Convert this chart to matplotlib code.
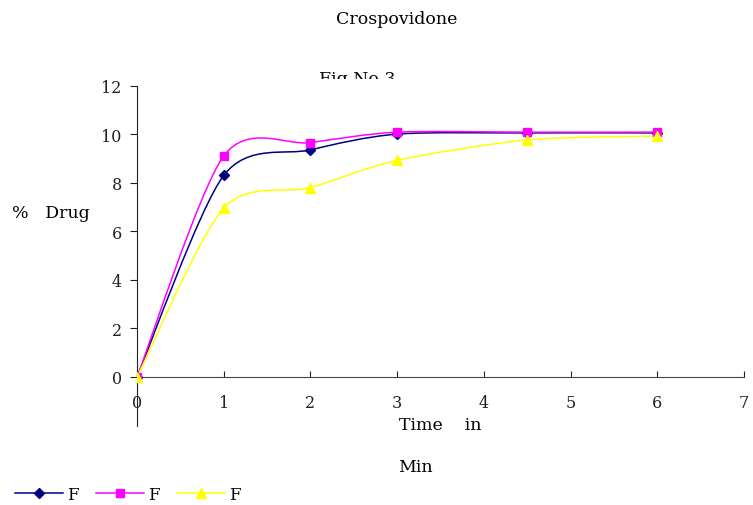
import matplotlib
matplotlib.use("Agg")
import matplotlib.pyplot as plt
from matplotlib.path import Path
from matplotlib.patches import PathPatch
from matplotlib.lines import Line2D

plt.rcParams['font.family'] = ['DejaVu Serif']

# time in minutes
time_min = [0, 1, 2, 3, 4.5, 6]
# % drug released, three formulations
series_blue = [0, 8.3, 9.35, 10.0, 10.05, 10.05]
series_pink = [0, 9.1, 9.65, 10.08, 10.08, 10.08]
series_yellow = [0, 6.95, 7.8, 8.92, 9.76, 9.92]
legend_labels = ["F", "F", "F"]
x_ticks = [0, 1, 2, 3, 4, 5, 6, 7]
y_ticks = [0, 2, 4, 6, 8, 10, 12]

TENSION = 0.14


def smooth_path(xs, ys):
    """Bezier path through the points, like a spreadsheet smoothed line."""
    pts = list(zip(xs, ys))
    n = len(pts)
    verts = [pts[0]]
    codes = [Path.MOVETO]
    for i in range(n - 1):
        p0 = pts[i - 1] if i > 0 else pts[i]
        p1 = pts[i]
        p2 = pts[i + 1]
        p3 = pts[i + 2] if i + 2 < n else pts[i + 1]
        c1 = (p1[0] + (p2[0] - p0[0]) * TENSION, p1[1] + (p2[1] - p0[1]) * TENSION)
        c2 = (p2[0] - (p3[0] - p1[0]) * TENSION, p2[1] - (p3[1] - p1[1]) * TENSION)
        verts += [c1, c2, p2]
        codes += [Path.CURVE4] * 3
    return Path(verts, codes)


fig = plt.figure(figsize=(7.53, 5.06), dpi=100)
ax = fig.add_axes([0.182, 0.157, 0.806, 0.684])
ax.set_zorder(2)
ax.set_facecolor("white")

styles = [
    (series_blue, "#000080", "D", 5),
    (series_pink, "#FF00FF", "s", 6),
    (series_yellow, "#FFFF00", "^", 7),
]
handles = []
for vals, col, mk, ms in styles:
    ax.add_patch(PathPatch(smooth_path(time_min, vals), facecolor="none",
                           edgecolor=col, lw=1.1, zorder=2))
    ax.plot(time_min, vals, linestyle="none", marker=mk, color=col,
            markersize=ms, zorder=3)
    handles.append(Line2D([], [], color=col, lw=1.1, marker=mk, markersize=ms))

ax.set_xlim(0, 7)
ax.set_ylim(-2, 12.25)
for s in ["top", "right"]:
    ax.spines[s].set_visible(False)
ax.spines["bottom"].set_position(("data", 0))
ax.spines["left"].set_bounds(-2, 12)
ax.spines["left"].set_color("#222222")
ax.spines["bottom"].set_color("#444444")

ax.set_xticks(x_ticks)
ax.set_yticks(y_ticks)
ax.tick_params(axis="x", direction="in", length=4, pad=12, labelsize=11.5,
               colors="#222222")
ax.tick_params(axis="y", direction="out", length=5, pad=6, labelsize=11.5,
               colors="#222222")

fig.text(0.527, 0.962, "Crospovidone", ha="center", va="center", fontsize=12.5)
# mostly hidden behind the plot area, as in the original
fig.text(0.475, 0.843, "Fig No 3", ha="center", va="center", fontsize=12.5,
         zorder=1)
fig.text(0.016, 0.579, "%   Drug", ha="left", va="center", fontsize=12.5)
fig.text(0.585, 0.16, "Time    in", ha="center", va="center", fontsize=12.5)
fig.text(0.552, 0.077, "Min", ha="center", va="center", fontsize=12.5)

fig.legend(handles, legend_labels, loc="lower left", ncol=3, frameon=False,
           bbox_to_anchor=(0.0, -0.025), fontsize=12, handlelength=2.9,
           columnspacing=1.0, handletextpad=0.25)

fig.savefig("out.png", dpi=100)
